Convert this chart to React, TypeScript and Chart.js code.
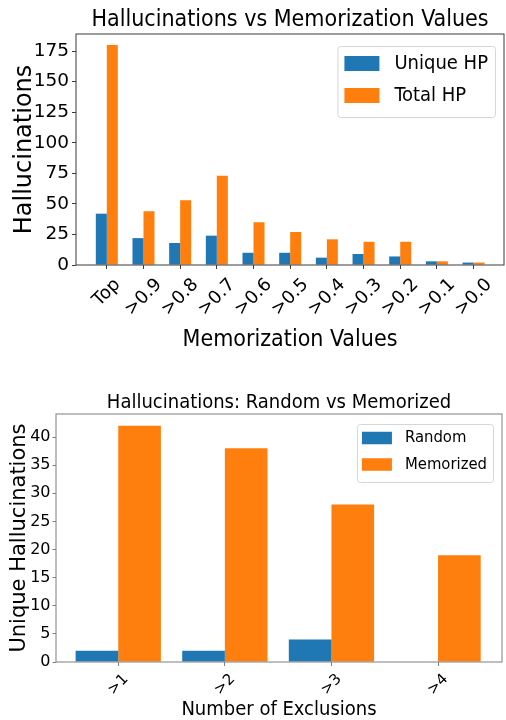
import React, { useEffect, useRef } from "react";
import { Chart, registerables } from "chart.js";

Chart.register(...registerables);

// ---------- data ----------
const memorizationLabels = ["Top", ">0.9", ">0.8", ">0.7", ">0.6", ">0.5", ">0.4", ">0.3", ">0.2", ">0.1", ">0.0"];
const uniqueHP = [42, 22, 18, 24, 10, 10, 6, 9, 7, 3, 2];
const totalHP = [180, 44, 53, 73, 35, 27, 21, 19, 19, 3, 2];

const exclusionLabels = [">1", ">2", ">3", ">4"];
const randomHall = [2, 2, 4, 0];
const memorizedHall = [42, 38, 28, 19];

// ---------- styles ----------
const BLUE = "#1f77b4";
const ORANGE = "#ff7f0e";
const COND = '"DejaVu Sans Condensed", "DejaVu Sans", sans-serif';
const REG = '"DejaVu Sans", sans-serif';

const mplPlugin: any = {
  id: "mpl",
  afterDatasetsDraw(chart: any, _args: any, opts: any) {
    const { ctx, chartArea: a } = chart;
    ctx.save();
    ctx.strokeStyle = opts.frameColor;
    ctx.lineWidth = 1;
    ctx.strokeRect(a.left, a.top, a.right - a.left, a.bottom - a.top);
    ctx.restore();
  },
  afterDraw(chart: any, _args: any, opts: any) {
    const { ctx, chartArea: a } = chart;
    const xs = chart.scales.x;
    const tl = opts.tickLabels;
    const labels: string[] = tl.labels;
    ctx.save();
    ctx.font = `${tl.size}px ${tl.family}`;
    ctx.fillStyle = "#000";
    ctx.textAlign = "center";
    ctx.textBaseline = "middle";
    xs.ticks.forEach((t: any) => {
      const label = labels[Math.round(t.value)];
      if (label === undefined) return;
      const x = xs.getPixelForValue(t.value);
      const w = ctx.measureText(label).width;
      const h = tl.size;
      const cy = a.bottom + tl.offset + (w + h) / (2 * Math.SQRT2);
      ctx.save();
      ctx.translate(x, cy);
      ctx.rotate(-Math.PI / 4);
      ctx.fillText(label, 0, 0);
      ctx.restore();
    });
    ctx.restore();

    // legend (matplotlib-like, inside the axes, upper right)
    const lg = opts.legend;
    const items = chart.data.datasets.map((d: any) => ({ label: d.label, color: d.backgroundColor }));
    ctx.save();
    ctx.font = `${lg.size}px ${lg.family}`;
    const maxW = Math.max(...items.map((i: any) => ctx.measureText(i.label).width));
    const boxW = lg.padL + lg.handleW + lg.gap + maxW + lg.padR;
    const right = a.right - lg.rightInset;
    const left = right - boxW;
    const top = a.top + lg.topInset;
    ctx.beginPath();
    if (ctx.roundRect) ctx.roundRect(left + 0.5, top + 0.5, boxW, lg.boxH, 3);
    else ctx.rect(left + 0.5, top + 0.5, boxW, lg.boxH);
    ctx.fillStyle = "rgba(255,255,255,0.8)";
    ctx.fill();
    ctx.strokeStyle = "#d6d6d6";
    ctx.lineWidth = 1;
    ctx.stroke();
    items.forEach((it: any, i: number) => {
      const cy = top + lg.firstRow + i * lg.rowH;
      ctx.fillStyle = it.color;
      ctx.fillRect(left + lg.padL, cy - lg.handleH / 2, lg.handleW, lg.handleH);
      ctx.fillStyle = "#000";
      ctx.textAlign = "left";
      ctx.textBaseline = "middle";
      ctx.fillText(it.label, left + lg.padL + lg.handleW + lg.gap, cy);
    });
    ctx.restore();
  },
};

function indexTicks(labels: string[]) {
  return (s: any) => {
    s.ticks = labels.map((_, i) => ({ value: i }));
  };
}

function makeTopConfig(): any {
  const frame = "#3a3a3a";
  return {
    type: "bar",
    data: {
      datasets: [
        {
          label: "Unique HP",
          data: uniqueHP.map((y, i) => ({ x: i, y })),
          backgroundColor: BLUE,
          borderWidth: 0,
          categoryPercentage: 0.6,
          barPercentage: 1,
        },
        {
          label: "Total HP",
          data: totalHP.map((y, i) => ({ x: i, y })),
          backgroundColor: ORANGE,
          borderWidth: 0,
          categoryPercentage: 0.6,
          barPercentage: 1,
        },
      ],
    },
    options: {
      responsive: false,
      animation: false,
      devicePixelRatio: 1,
      layout: { padding: { left: 0, right: 2, top: 0, bottom: 0 } },
      plugins: {
        legend: { display: false },
        tooltip: { enabled: false },
        title: {
          display: true,
          fullSize: false,
          text: "Hallucinations vs Memorization Values",
          color: "#000",
          font: { family: COND, size: 23, lineHeight: 1, weight: "normal" },
          padding: { top: 8.5, bottom: 2.5 },
        },
        mpl: {
          frameColor: frame,
          tickLabels: { labels: memorizationLabels, size: 18, family: REG, offset: 10.5 },
          legend: {
            size: 20, family: COND, rightInset: 9, topInset: 12, boxH: 71, firstRow: 17.5, rowH: 32,
            handleW: 35, handleH: 15, padL: 7, gap: 15, padR: 7,
          },
        },
      },
      scales: {
        x: {
          type: "linear",
          min: -0.84,
          max: 10.83,
          offset: false,
          afterBuildTicks: indexTicks(memorizationLabels),
          afterFit: (s: any) => { s.height = 95; },
          ticks: { display: false, stepSize: 1 },
          grid: { offset: false, drawOnChartArea: false, drawTicks: true, tickLength: 4, color: frame, tickColor: frame },
          border: { display: false },
          title: {
            display: true,
            text: "Memorization Values",
            color: "#000",
            font: { family: COND, size: 23, lineHeight: 1 },
            padding: { top: 0, bottom: 8.5 },
          },
        },
        y: {
          min: 0,
          max: 189,
          afterFit: (s: any) => { s.width = 76; },
          ticks: { stepSize: 25, includeBounds: false, color: "#000", font: { family: REG, size: 18.5 }, padding: 3 },
          grid: { drawOnChartArea: false, drawTicks: true, tickLength: 4, color: frame, tickColor: frame },
          border: { display: false },
          title: {
            display: true,
            text: "Hallucinations",
            color: "#000",
            font: { family: REG, size: 24, lineHeight: 1 },
            padding: { top: 12.5, bottom: 0 },
          },
        },
      },
    },
    plugins: [mplPlugin],
  };
}

function makeBottomConfig(): any {
  const frame = "#7f7f7f";
  return {
    type: "bar",
    data: {
      datasets: [
        {
          label: "Random",
          data: randomHall.map((y, i) => ({ x: i, y })),
          backgroundColor: BLUE,
          borderWidth: 0,
          categoryPercentage: 0.8,
          barPercentage: 1,
        },
        {
          label: "Memorized",
          data: memorizedHall.map((y, i) => ({ x: i, y })),
          backgroundColor: ORANGE,
          borderWidth: 0,
          categoryPercentage: 0.8,
          barPercentage: 1,
        },
      ],
    },
    options: {
      responsive: false,
      animation: false,
      devicePixelRatio: 1,
      layout: { padding: { left: 0, right: 4, top: 0, bottom: 0 } },
      plugins: {
        legend: { display: false },
        tooltip: { enabled: false },
        title: {
          display: true,
          fullSize: false,
          text: "Hallucinations: Random vs Memorized",
          color: "#000",
          font: { family: COND, size: 20, lineHeight: 1, weight: "normal" },
          padding: { top: 32.5, bottom: 1.5 },
        },
        mpl: {
          frameColor: frame,
          tickLabels: { labels: exclusionLabels, size: 15, family: REG, offset: 9.5 },
          legend: {
            size: 16.5, family: COND, rightInset: 9, topInset: 10, boxH: 58, firstRow: 14, rowH: 26.5,
            handleW: 30, handleH: 12.5, padL: 5, gap: 13, padR: 6,
          },
        },
      },
      scales: {
        x: {
          type: "linear",
          min: -0.584,
          max: 3.6,
          offset: false,
          afterBuildTicks: indexTicks(exclusionLabels),
          afterFit: (s: any) => { s.height = 58; },
          ticks: { display: false, stepSize: 1 },
          grid: { offset: false, drawOnChartArea: false, drawTicks: true, tickLength: 4, color: frame, tickColor: frame },
          border: { display: false },
          title: {
            display: true,
            text: "Number of Exclusions",
            color: "#000",
            font: { family: COND, size: 20, lineHeight: 1 },
            padding: { top: 0, bottom: 0 },
          },
        },
        y: {
          min: 0,
          max: 44.1,
          afterFit: (s: any) => { s.width = 56; },
          ticks: { stepSize: 5, includeBounds: false, color: "#000", font: { family: REG, size: 16 }, padding: 2 },
          grid: { drawOnChartArea: false, drawTicks: true, tickLength: 3.5, color: frame, tickColor: frame },
          border: { display: false },
          title: {
            display: true,
            text: "Unique Hallucinations",
            color: "#000",
            font: { family: REG, size: 21, lineHeight: 1 },
            padding: { top: 9.5, bottom: 0 },
          },
        },
      },
    },
    plugins: [mplPlugin],
  };
}

function ChartCanvas({ make, top, width, height }: { make: () => any; top: number; width: number; height: number }) {
  const ref = useRef<HTMLCanvasElement>(null);
  useEffect(() => {
    const chart = new Chart(ref.current as HTMLCanvasElement, make());
    return () => chart.destroy();
  }, [make]);
  return (
    <canvas
      ref={ref}
      width={width}
      height={height}
      style={{ position: "absolute", left: 0, top, width, height }}
    />
  );
}

export default function App() {
  return (
    <div style={{ position: "absolute", left: 0, top: 0, width: 506, height: 720, background: "#fff", overflow: "hidden" }}>
      <ChartCanvas make={makeTopConfig} top={0} width={506} height={360} />
      <ChartCanvas make={makeBottomConfig} top={360} width={506} height={360} />
    </div>
  );
}
